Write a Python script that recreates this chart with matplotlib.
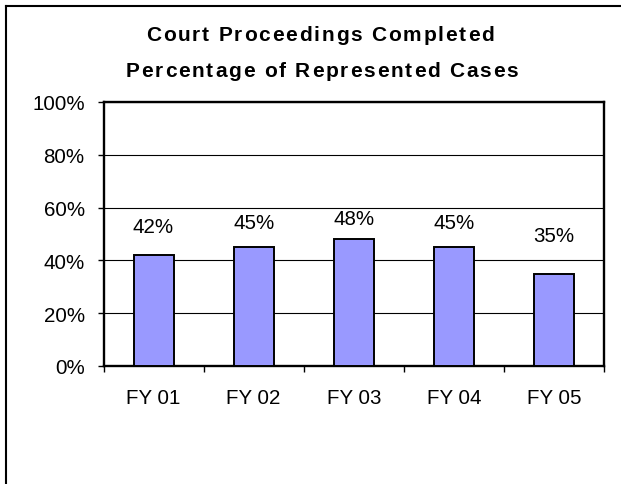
"""
court proceedings completed - percentage of represented cases
"""

import matplotlib
matplotlib.use('Agg')
import matplotlib.pyplot as plt
from matplotlib.lines import Line2D
from matplotlib.ticker import FuncFormatter, FixedLocator

## data
YEARS      = ['FY 01', 'FY 02', 'FY 03', 'FY 04', 'FY 05']
PCT_DONE   = [0.42, 0.45, 0.48, 0.45, 0.35]
TITLE_1    = 'Court Proceedings Completed'
TITLE_2    = 'Percentage of Represented Cases'

FONT       = 'Liberation Sans'
BAR_COLOR  = '#9999FF'
W_PX, H_PX = 621, 485
DPI        = 100


def spaced_title(fig, renderer, text, cx, base_y, spacing, size):
    '''
    draw bold text with extra letter spacing, centred at cx (pixels)
    '''
    props = dict(family=FONT, weight='bold', size=size)

    def width(s):
        t = fig.text(0, 0, s, **props)
        w = t.get_window_extent(renderer).width
        t.remove()
        return w

    ref_w = width('l')
    pos = [width(text[:i] + 'l') - ref_w if i else 0.0 for i in range(len(text))]
    pos = [p + i * spacing for i, p in enumerate(pos)]
    total = width(text) + (len(text) - 1) * spacing
    x0 = cx - total / 2.0

    for ch, p in zip(text, pos):
        if ch == ' ':
            continue
        fig.text((x0 + p) / W_PX, 1 - base_y / H_PX, ch,
                 ha='left', va='baseline', **props)


def plot_chart():
    '''
    plot the bar chart
    '''
    fig = plt.figure(figsize=(W_PX / DPI, H_PX / DPI), dpi=DPI)
    fig.patch.set_facecolor('white')

    ax = fig.add_axes([103.5 / W_PX, 1 - 367 / H_PX,
                       (604 - 103.5) / W_PX, (367 - 103) / H_PX])

    x_list = range(len(YEARS))
    ax.bar(x_list, PCT_DONE, width=0.4, color=BAR_COLOR,
           edgecolor='black', linewidth=1.4, zorder=3)

    # value labels
    for x, v in zip(x_list, PCT_DONE):
        ax.text(x, v / 2 + 0.32, '{:.0f}%'.format(v * 100), ha='center', va='center',
                family=FONT, fontsize=14.8, color='black', zorder=4)

    ax.set_xlim(-0.5, len(YEARS) - 0.5)
    ax.set_ylim(0, 1.0)

    # y axis
    ax.set_yticks([0, 0.2, 0.4, 0.6, 0.8, 1.0])
    ax.yaxis.set_major_formatter(FuncFormatter(lambda y, _: '{:.0f}%'.format(y * 100)))
    ax.yaxis.grid(True, color='black', linewidth=0.8, zorder=1)
    ax.set_axisbelow(True)

    # x axis : labels at centres, ticks at boundaries
    ax.set_xticks(list(x_list))
    ax.set_xticklabels(YEARS)
    ax.xaxis.set_minor_locator(FixedLocator([i - 0.5 for i in range(len(YEARS) + 1)]))
    ax.tick_params(axis='x', which='major', length=0, pad=15.5)
    ax.tick_params(axis='x', which='minor', length=4, width=1, direction='out')
    ax.tick_params(axis='y', length=4, width=1, direction='out', pad=9.5)

    for lbl in ax.get_xticklabels() + ax.get_yticklabels():
        lbl.set_family(FONT)
        lbl.set_fontsize(14.8)

    for sp in ax.spines.values():
        sp.set_linewidth(1.7)
        sp.set_color('black')

    # outer frame (left and top visible)
    fig.add_artist(Line2D([6 / W_PX, 6 / W_PX], [0, 1 - 7 / H_PX],
                          transform=fig.transFigure, color='black', linewidth=1.5))
    fig.add_artist(Line2D([6 / W_PX, 1], [1 - 7 / H_PX, 1 - 7 / H_PX],
                          transform=fig.transFigure, color='black', linewidth=1.5))

    # title
    fig.canvas.draw()
    renderer = fig.canvas.get_renderer()
    spaced_title(fig, renderer, TITLE_1, 320, 41, 1.8, 15)
    spaced_title(fig, renderer, TITLE_2, 322, 77, 1.8, 15)

    fig.savefig('out.png', dpi=DPI, facecolor='white')


if __name__ == '__main__':
    plot_chart()
